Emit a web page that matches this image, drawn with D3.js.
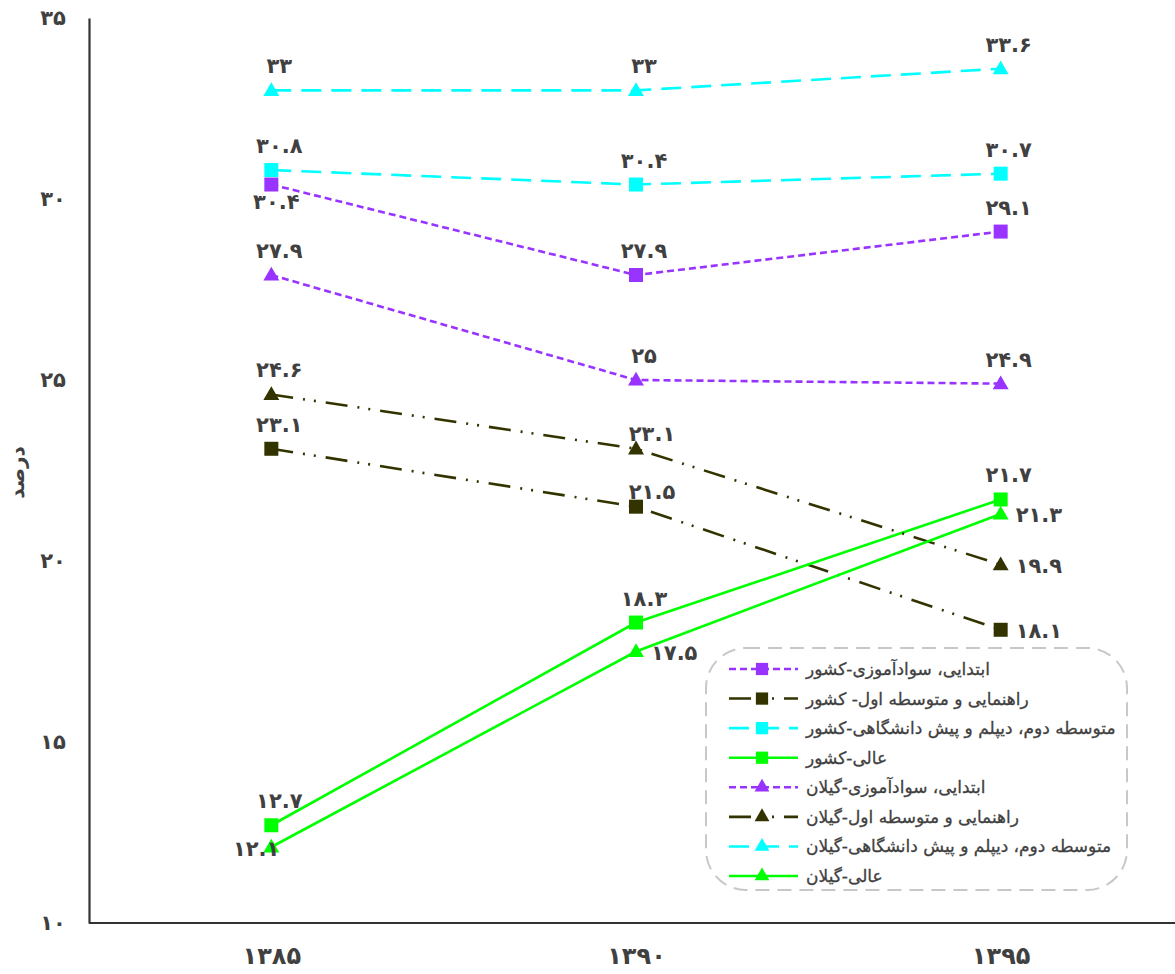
<!DOCTYPE html>
<html lang="fa">
<head>
<meta charset="utf-8">
<script src="https://cdn.jsdelivr.net/npm/d3@7/dist/d3.min.js"></script>
<style>
  html, body { margin: 0; padding: 0; background: #fff; }
  svg { display: block; }
  text { font-family: "DejaVu Sans", "Noto Sans", sans-serif; fill: #404040; }
</style>
</head>
<body>
<svg id="chart" width="1175" height="974"></svg>
<script>
// Years on the horizontal axis
const years = ["1385", "1390", "1395"];

// Share (percent) per education level, country vs. Gilan province
const ebtedaiKeshvar   = [30.4, 27.9, 29.1];
const rahnamaiKeshvar  = [23.1, 21.5, 18.1];
const motavassetKeshvar = [30.8, 30.4, 30.7];
const aliKeshvar       = [12.7, 18.3, 21.7];
const ebtedaiGilan     = [27.9, 25.0, 24.9];
const rahnamaiGilan    = [24.6, 23.1, 19.9];
const motavassetGilan  = [33.0, 33.0, 33.6];
const aliGilan         = [12.1, 17.5, 21.3];

const seriesNames = [
  "ابتدایی، سوادآموزی-کشور",
  "راهنمایی و متوسطه اول- کشور",
  "متوسطه دوم، دیپلم و پیش دانشگاهی-کشور",
  "عالی-کشور",
  "ابتدایی، سوادآموزی-گیلان",
  "راهنمایی و متوسطه اول-گیلان",
  "متوسطه دوم، دیپلم و پیش دانشگاهی-گیلان",
  "عالی-گیلان"
];
const seriesValues = [
  ebtedaiKeshvar, rahnamaiKeshvar, motavassetKeshvar, aliKeshvar,
  ebtedaiGilan, rahnamaiGilan, motavassetGilan, aliGilan
];
const yTicks = [10, 15, 20, 25, 30, 35];

// Styling per series
const colors = ["#9933ff", "#333300", "#00ffff", "#00ff00", "#9933ff", "#333300", "#00ffff", "#00ff00"];
const dashes = ["7,4", "22,10,2,9,2,10", "20,10", null, "7,4", "22,10,2,9,2,10", "20,10", null];
const shapes = ["square", "square", "square", "square", "triangle", "triangle", "triangle", "triangle"];
// Where each value label sits relative to its marker: a=above, b=below, l=left, r=right, ar=above-right
const labelPos = [
  ["b", "a", "a"],
  ["a", "ar", "r"],
  ["a", "a", "a"],
  ["a", "a", "a"],
  ["a", "a", "a"],
  ["a", "ar", "r"],
  ["a", "a", "a"],
  ["l", "r", "r"]
];

const faDigits = "۰۱۲۳۴۵۶۷۸۹";
const toFa = s => String(s).replace(/[0-9]/g, d => faDigits[+d]);

const svg = d3.select("#chart");
const margin = { left: 89, top: 18, bottom: 923, right: 1183 };

const x = d3.scalePoint().domain(years).range([margin.left, margin.right]).padding(0.5);
const y = d3.scaleLinear().domain([10, 35]).range([margin.bottom, margin.top]);

// Axes
const yAxis = svg.append("g")
  .attr("transform", `translate(${margin.left},0)`)
  .call(d3.axisLeft(y).tickValues(yTicks).tickSize(0).tickPadding(26).tickFormat(d => toFa(d)));
yAxis.select(".domain").attr("stroke", "#333").attr("stroke-width", 2.2);
yAxis.selectAll("text").attr("font-size", 21).attr("font-weight", "bold").attr("fill", "#404040")
  .attr("font-family", "DejaVu Sans").attr("text-anchor", "middle").attr("x", -36);

const xAxis = svg.append("g")
  .attr("transform", `translate(0,${margin.bottom})`)
  .call(d3.axisBottom(x).tickSize(0).tickPadding(24).tickFormat(d => toFa(d)));
xAxis.select(".domain").attr("stroke", "#333").attr("stroke-width", 2.2)
  .attr("d", `M${margin.left},0H1175`);
xAxis.selectAll("text").attr("font-size", 24).attr("font-weight", "bold").attr("fill", "#404040")
  .attr("font-family", "DejaVu Sans");

// Y axis title
svg.append("text")
  .attr("transform", `translate(24,${(margin.top + margin.bottom) / 2 + 2}) rotate(-90)`)
  .attr("text-anchor", "middle")
  .attr("font-size", 20).attr("font-weight", "bold")
  .text("درصد");

const line = d3.line().x((d, i) => x(years[i])).y(d => y(d));

const sym = {
  square: d3.symbol().type(d3.symbolSquare).size(196),
  triangle: d3.symbol().type(d3.symbolTriangle).size(110)
};
const legendSym = {
  square: d3.symbol().type(d3.symbolSquare).size(150),
  triangle: d3.symbol().type(d3.symbolTriangle).size(95)
};

const plot = svg.append("g");

seriesValues.forEach((vals, si) => {
  const g = plot.append("g");
  g.append("path")
    .datum(vals)
    .attr("d", line)
    .attr("fill", "none")
    .attr("stroke", colors[si])
    .attr("stroke-width", 2.6)
    .attr("stroke-dasharray", dashes[si]);
  g.selectAll("path.m")
    .data(vals)
    .join("path")
    .attr("class", "m")
    .attr("d", sym[shapes[si]])
    .attr("transform", (d, i) => `translate(${x(years[i])},${y(d) + (shapes[si] === "triangle" ? 1 : 0)})`)
    .attr("fill", colors[si]);
});

// Value labels
seriesValues.forEach((vals, si) => {
  vals.forEach((v, i) => {
    const px = x(years[i]), py = y(v);
    const p = labelPos[si][i];
    let dx = 8, dy = -17, anchor = "middle";
    if (p === "b") { dx = 5; dy = 24; }
    if (p === "ar") { dx = 16; dy = -8; }
    if (p === "r") { dx = 15; dy = 8; anchor = "start"; }
    if (p === "l") { dx = 8; dy = 9; anchor = "end"; }
    svg.append("text")
      .attr("x", px + dx).attr("y", py + dy)
      .attr("text-anchor", anchor)
      .attr("font-size", 21).attr("font-weight", "bold")
      .text(toFa(v));
  });
});

// Legend
const lg = svg.append("g");
lg.append("rect")
  .attr("x", 706).attr("y", 648).attr("width", 421).attr("height", 242)
  .attr("rx", 40).attr("ry", 40)
  .attr("fill", "#fff").attr("stroke", "#c8c8c8").attr("stroke-width", 2)
  .attr("stroke-dasharray", "14,8");

const rowY = d3.scaleLinear().domain([0, seriesNames.length - 1]).range([669, 876]);
seriesNames.forEach((name, si) => {
  const yy = rowY(si);
  lg.append("line")
    .attr("x1", 729).attr("x2", 798).attr("y1", yy).attr("y2", yy)
    .attr("stroke", colors[si]).attr("stroke-width", 2.6)
    .attr("stroke-dasharray", dashes[si]);
  lg.append("path")
    .attr("d", legendSym[shapes[si]])
    .attr("transform", `translate(762,${yy})`)
    .attr("fill", colors[si]);
  lg.append("text")
    .attr("x", 806).attr("y", yy + 6)
    .attr("text-anchor", "start")
    .attr("direction", "ltr")
    .attr("font-size", 17)
    .attr("fill", "#404040")
    .attr("stroke", "#404040").attr("stroke-width", 0.3)
    .text(name);
});
</script>
</body>
</html>
